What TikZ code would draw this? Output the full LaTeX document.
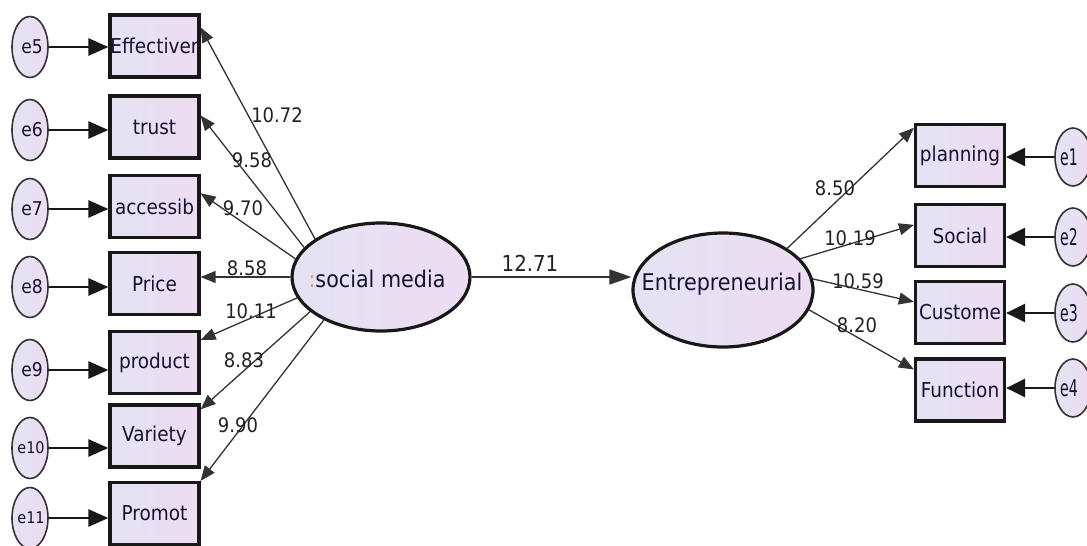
\documentclass[tikz,border=0pt]{standalone}
\usepackage{fontspec}
\usepackage{graphicx}
\setmainfont{DejaVu Sans Condensed}
\usetikzlibrary{arrows.meta,calc,shapes.geometric}
\definecolor{lavL}{HTML}{E3E3F3}
\definecolor{lavR}{HTML}{EEDCF2}
\definecolor{boxline}{HTML}{181818}
\definecolor{errline}{HTML}{333333}
\definecolor{txt}{HTML}{141432}
\definecolor{numc}{HTML}{222222}
\definecolor{ldline}{HTML}{333333}
\definecolor{colon}{HTML}{E0A060}
\begin{document}
\begin{tikzpicture}[x=1pt,y=-1pt,
  boxn/.style={draw=boxline, line width=3.2pt, left color=lavL, right color=lavR,
    minimum width=89pt, minimum height=62pt, inner sep=0pt,
    font=\fontsize{20.5}{24}\selectfont, text=txt},
  errn/.style={ellipse, draw=errline, line width=1.6pt, left color=lavL, right color=lavR,
    minimum width=36pt, minimum height=61pt, inner sep=0pt},
  latn/.style={ellipse, draw=boxline, line width=3.2pt, left color=lavL, right color=lavR,
    inner sep=0pt},
  etxt/.style={inner sep=0pt, text=txt, font=\fontsize{19}{22}\selectfont},
  ltxt/.style={inner sep=0pt, text=txt, font=\fontsize{23}{26}\selectfont},
  erra/.style={line width=2.6pt, draw=boxline, -{Triangle[length=20pt,width=17pt]}},
  loada/.style={line width=1.3pt, draw=ldline, -{Triangle[length=15pt,width=12pt]}},
  num/.style={inner sep=0pt, text=numc, font=\fontsize{20}{22}\selectfont}]
\fill[white] (0,0) rectangle (1087,546);
\useasboundingbox (0,0) rectangle (1087,546);

% left indicator boxes
\node[boxn] (b1) at (154.5,46) {Effectiver};
\node[boxn] (b2) at (154.5,127) {trust};
\node[boxn] (b3) at (154.5,206.5) {accessib};
\node[boxn] (b4) at (154.5,283.5) {Price};
\node[boxn] (b5) at (154.5,362.5) {product};
\node[boxn] (b6) at (154.5,436) {Variety};
\node[boxn] (b7) at (154.5,513.5) {Promot};

% left error terms
\node[errn] (e5) at (30,47) {};
\node[errn] (e6) at (30,130) {};
\node[errn] (e7) at (30,209) {};
\node[errn] (e8) at (30,287) {};
\node[errn] (e9) at (30,370) {};
\node[errn] (e10) at (30,448) {};
\node[errn] (e11) at (30,518) {};
\node[etxt] (te5) at (32,47) {e5};
\node[etxt] (te6) at (32,130) {e6};
\node[etxt] (te7) at (32,209) {e7};
\node[etxt] (te8) at (32,287) {e8};
\node[etxt] (te9) at (32,370) {e9};
\node[etxt, font=\fontsize{16}{18}\selectfont] (te10) at (31,448) {e10};
\node[etxt, font=\fontsize{16}{18}\selectfont] (te11) at (31,518) {e11};

\foreach \e/\b in {e5/b1,e6/b2,e7/b3,e8/b4,e9/b5,e10/b6,e11/b7}
  \draw[erra] (\e.east) -- (\e.east -| \b.west);

% right indicator boxes
\node[boxn] (r1) at (960,155.5) {planning};
\node[boxn] (r2) at (960,235.5) {Social};
\node[boxn] (r3) at (960,312.5) {Custome};
\node[boxn] (r4) at (960,390) {Function};

\node[errn, minimum height=58pt] (e1) at (1073,157) {};
\node[errn, minimum height=58pt] (e2) at (1073,237) {};
\node[errn, minimum height=58pt] (e3) at (1073,313) {};
\node[errn, minimum height=58pt] (e4) at (1073,388) {};
\node[etxt, font=\fontsize{23}{25}\selectfont] (te1) at (1069,157) {\scalebox{0.68}[1]{e1}};
\node[etxt, font=\fontsize{23}{25}\selectfont] (te2) at (1069,237) {\scalebox{0.68}[1]{e2}};
\node[etxt, font=\fontsize{23}{25}\selectfont] (te3) at (1069,313) {\scalebox{0.68}[1]{e3}};
\node[etxt, font=\fontsize{23}{25}\selectfont] (te4) at (1069,388) {\scalebox{0.68}[1]{e4}};

\foreach \e/\b in {e1/r1,e2/r2,e3/r3,e4/r4}
  \draw[erra, -{Triangle[length=19pt,width=18pt]}] (\e.west) -- (\e.west -| \b.east);

% latent variables
\node[latn, minimum width=178pt, minimum height=108pt] (soc) at (381,277) {};
\node[latn, minimum width=180pt, minimum height=114pt] (ent) at (723,290) {};
\node[ltxt] (tsoc) at (377,279) {{\color{colon}:}social media};
\node[ltxt] (tent) at (722,284) {Entrepreneurial};

% loadings social media
\draw[loada] (soc.150) -- (b1.22);
\draw[loada] (soc.159) -- (b2.14);
\draw[loada] (soc.168) -- (b3.16);
\draw[loada] (soc.west) -- (soc.west -| b4.east);
\draw[loada] (soc.194) -- (b5.26);
\draw[loada] (soc.206) -- (b6.30);
\draw[loada] (soc.217) -- (b7.north east);

% loadings entrepreneurial
\draw[loada] (ent.33) -- (r1.149);
\draw[loada] (ent.22) -- (r2.167);
\draw[loada] (ent.7) -- (r3.167);
\draw[loada] (ent.-13) -- (r4.156);

% structural path
\draw[loada, line width=1.5pt, -{Triangle[length=22pt,width=15pt]}] (soc.east) -- (soc.east -| ent.west);

% numbers
\node[num] (n1) at (277,115) {10.72};
\node[num] (n2) at (252,160) {9.58};
\node[num] (n3) at (243,208) {9.70};
\node[num] (n4) at (247,268) {8.58};
\node[num] (n5) at (251,311) {10.11};
\node[num] (n6) at (244,360) {8.83};
\node[num] (n7) at (238,425) {9.90};
\node[num, font=\fontsize{22}{24}\selectfont] (n8) at (530,263) {12.71};
\node[num] (n9) at (835,188) {8.50};
\node[num] (n10) at (850,238) {10.19};
\node[num] (n11) at (858,281) {10.59};
\node[num] (n12) at (857,325) {8.20};
\end{tikzpicture}
\end{document}
